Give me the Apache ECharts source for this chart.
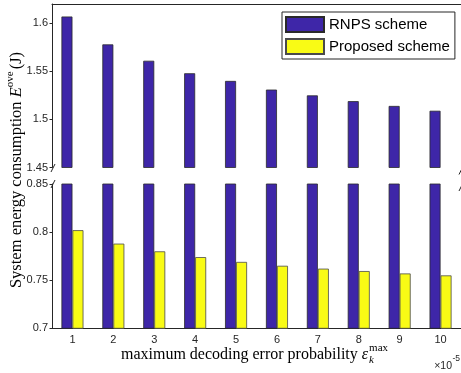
<!DOCTYPE html>
<html>
<head>
<meta charset="utf-8">
<script src="https://cdn.jsdelivr.net/npm/echarts@6/dist/echarts.min.js"></script>
<style>
  html, body { margin: 0; padding: 0; background: #fff; }
  #c { width: 461px; height: 373px; }
</style>
</head>
<body>
<div id="c"></div>
<script>
// Maximum decoding error probability (x 10^-5)
const categories = ['1', '2', '3', '4', '5', '6', '7', '8', '9', '10'];
// System energy consumption (J)
const rnpsEnergy = [1.607, 1.578, 1.561, 1.548, 1.540, 1.531, 1.525, 1.519, 1.514, 1.509];
const proposedEnergy = [0.802, 0.788, 0.780, 0.774, 0.769, 0.765, 0.762, 0.7595, 0.757, 0.755];
// Broken y axis: two value ranges
const upperRange = [1.45, 1.62];
const lowerRange = [0.70, 0.85];
const tickStep = 0.05;
const seriesNames = ['RNPS scheme', 'Proposed scheme'];

const BLUE = '#3E26A8';
const YELLOW = '#F9FB15';
const AXIS = '#262626';
const SERIF = '"Liberation Serif", "DejaVu Serif", serif';
const SANS = '"Liberation Sans", Arial, sans-serif';

// Layout of the two stacked panels
const L = 52, PLOT_W = 409;
const UP_TOP = 4, UP_BOTTOM = 167.5;
const LOW_TOP = 184, LOW_BOTTOM = 328.3;

const ctx = document.createElement('canvas').getContext('2d');
function tw(txt, font) { ctx.font = font; return ctx.measureText(txt).width; }

const fmt = v => String(+(+v).toFixed(2));

const barCommon = {
  type: 'bar',
  barWidth: 11,
  barGap: '0%',
  barCategoryGap: '0%',
  animation: false
};
const blueStyle = { color: BLUE, borderColor: '#2a2a2a', borderWidth: 0.8 };
const yellowStyle = { color: YELLOW, borderColor: '#4a4a4a', borderWidth: 0.8 };

// ---------- y-axis title (rotated, with superscript) ----------
const yFont = '16.5px ' + SERIF;
const yFontI = 'italic 16.5px ' + SERIF;
const ySupFont = '11px ' + SERIF;
const yParts = [
  { t: 'System energy consumption ', f: yFont, dy: 0 },
  { t: 'E', f: yFontI, dy: 0 },
  { t: 'ove', f: ySupFont, dy: -6.5 },
  { t: '(J)', f: yFont, dy: 0, pad: 2 }
];
let yTotal = 0;
yParts.forEach(p => { p.w = tw(p.t, p.f); yTotal += p.w + (p.pad || 0); });
let yCursor = -yTotal / 2;
const yTitleChildren = yParts.map(p => {
  yCursor += (p.pad || 0);
  const el = {
    type: 'text',
    style: { text: p.t, x: yCursor, y: p.dy, font: p.f, fill: '#000', textAlign: 'left', textVerticalAlign: 'middle' }
  };
  yCursor += p.w;
  return el;
});

// ---------- x-axis title (with stacked sub/superscript) ----------
const xFont = '16px ' + SERIF;
const xFontI = 'italic 16px ' + SERIF;
const xSmall = '11px ' + SERIF;
const xSmallI = 'italic 11px ' + SERIF;
const xMain = 'maximum decoding error probability ';
const wMain = tw(xMain, xFont);
const wEps = tw('ε', xFontI);
const wMax = tw('max', xSmall);
const wK = tw('k', xSmallI);
const xTotal = wMain + wEps + 1 + Math.max(wMax, wK);
const xCenter = L + PLOT_W / 2;
const xStart = xCenter - xTotal / 2 - 2;
const xMid = 355;
const xTitleChildren = [
  { type: 'text', style: { text: xMain, x: xStart, y: xMid, font: xFont, fill: '#000', textAlign: 'left', textVerticalAlign: 'middle' } },
  { type: 'text', style: { text: 'ε', x: xStart + wMain, y: xMid, font: xFontI, fill: '#000', textAlign: 'left', textVerticalAlign: 'middle' } },
  { type: 'text', style: { text: 'max', x: xStart + wMain + wEps + 1, y: xMid - 7, font: xSmall, fill: '#000', textAlign: 'left', textVerticalAlign: 'middle' } },
  { type: 'text', style: { text: 'k', x: xStart + wMain + wEps + 1, y: xMid + 5, font: xSmallI, fill: '#000', textAlign: 'left', textVerticalAlign: 'middle' } }
];

// ---------- axis break marks ----------
function slash(cx, cy) {
  return { type: 'line', shape: { x1: cx - 2, y1: cy + 4, x2: cx + 2, y2: cy - 4 }, style: { stroke: AXIS, lineWidth: 1 } };
}
const R = L + PLOT_W;

const option = {
  animation: false,
  backgroundColor: '#fff',
  grid: [
    { left: L, top: UP_TOP, width: PLOT_W, height: UP_BOTTOM - UP_TOP },
    { left: L, top: LOW_TOP, width: PLOT_W, height: LOW_BOTTOM - LOW_TOP }
  ],
  legend: {
    data: seriesNames,
    left: 282, top: 12,
    orient: 'vertical',
    icon: 'rect',
    itemWidth: 38, itemHeight: 15, itemGap: 5,
    padding: [4, 5, 4, 3],
    borderColor: AXIS, borderWidth: 1,
    backgroundColor: '#fff',
    selectedMode: false,
    textStyle: { fontSize: 15, fontFamily: SANS, color: '#000' }
  },
  xAxis: [
    {
      gridIndex: 0, type: 'category', data: categories, position: 'top',
      axisLine: { show: true, lineStyle: { color: AXIS, width: 1 } },
      axisTick: { show: false }, axisLabel: { show: false }, splitLine: { show: false }
    },
    {
      gridIndex: 1, type: 'category', data: categories, position: 'bottom',
      axisLine: { show: true, lineStyle: { color: AXIS, width: 1 } },
      axisTick: { show: false },
      axisLabel: { fontSize: 11, fontFamily: SANS, color: AXIS, margin: 6 },
      splitLine: { show: false }
    }
  ],
  yAxis: [
    {
      gridIndex: 0, type: 'value', min: upperRange[0], max: upperRange[1], interval: tickStep,
      axisLine: { show: true, lineStyle: { color: AXIS, width: 1 } },
      axisTick: { show: true, length: 2.5, lineStyle: { color: AXIS } },
      axisLabel: { fontSize: 11, fontFamily: SANS, color: AXIS, margin: 4, formatter: fmt, showMaxLabel: false },
      splitLine: { show: false }
    },
    {
      gridIndex: 1, type: 'value', min: lowerRange[0], max: lowerRange[1], interval: tickStep,
      axisLine: { show: true, lineStyle: { color: AXIS, width: 1 } },
      axisTick: { show: true, length: 2.5, lineStyle: { color: AXIS } },
      axisLabel: { fontSize: 11, fontFamily: SANS, color: AXIS, margin: 4, formatter: fmt },
      splitLine: { show: false }
    }
  ],
  series: [
    Object.assign({}, barCommon, { name: seriesNames[0], xAxisIndex: 0, yAxisIndex: 0, data: rnpsEnergy, itemStyle: blueStyle }),
    Object.assign({}, barCommon, { name: seriesNames[1], xAxisIndex: 0, yAxisIndex: 0,
      data: proposedEnergy.map(v => (v > upperRange[0] ? v : '-')), itemStyle: yellowStyle }),
    Object.assign({}, barCommon, { name: seriesNames[0], xAxisIndex: 1, yAxisIndex: 1, data: rnpsEnergy, itemStyle: blueStyle }),
    Object.assign({}, barCommon, { name: seriesNames[1], xAxisIndex: 1, yAxisIndex: 1, data: proposedEnergy, itemStyle: yellowStyle })
  ],
  graphic: [
    { type: 'group', x: 17, y: 170, rotation: Math.PI / 2, children: yTitleChildren },
    { type: 'group', children: xTitleChildren },
    { type: 'text', style: { text: '×10', x: 452, y: 366, font: '10.5px ' + SANS, fill: AXIS, textAlign: 'right', textVerticalAlign: 'middle' } },
    { type: 'text', style: { text: '-5', x: 452.5, y: 359, font: '8.5px ' + SANS, fill: AXIS, textAlign: 'left', textVerticalAlign: 'middle' } },
    slash(L + 1, UP_BOTTOM + 0.5), slash(L + 1, LOW_TOP),
    slash(R, UP_BOTTOM + 3), slash(R, LOW_TOP + 3)
  ]
};

echarts.init(document.getElementById('c')).setOption(option);
</script>
</body>
</html>
